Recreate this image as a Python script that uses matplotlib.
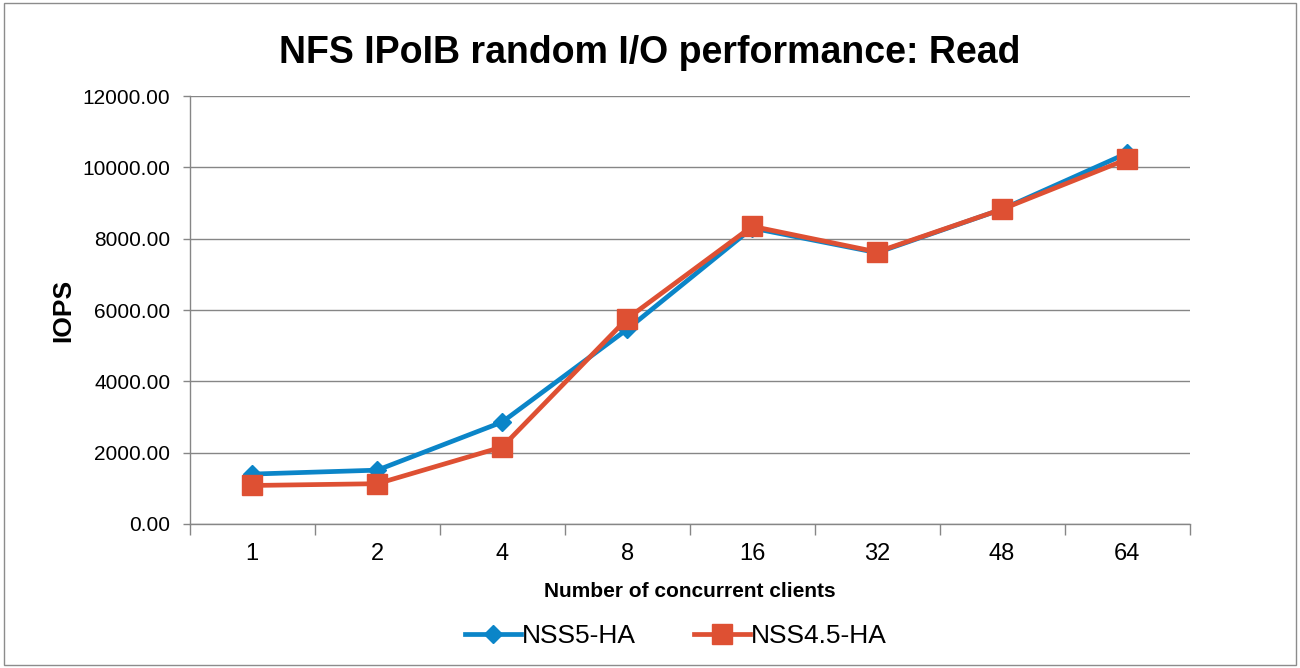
import matplotlib.pyplot as plt
from matplotlib.patches import Rectangle

plt.rcParams['font.family'] = ['Liberation Sans', 'DejaVu Sans']

clients = ['1', '2', '4', '8', '16', '32', '48', '64']
nss5_ha = [1400, 1510, 2860, 5460, 8300, 7610, 8830, 10400]
nss45_ha = [1080, 1130, 2160, 5760, 8350, 7630, 8830, 10230]
yticks = [0, 2000, 4000, 6000, 8000, 10000, 12000]

fig = plt.figure(figsize=(13, 6.68), dpi=100)
fig.patches.append(Rectangle((0.003, 0.004), 0.994, 0.992, transform=fig.transFigure,
                             fill=False, edgecolor='#8c8c8c', linewidth=1))
ax = fig.add_axes([0.146, 0.2156, 0.769, 0.6404])

x = list(range(len(clients)))
ax.plot(x, nss5_ha, color='#0B85C8', linewidth=3.4, marker='D', markersize=9.5,
        label='NSS5-HA', zorder=3)
ax.plot(x, nss45_ha, color='#DE5033', linewidth=3.4, marker='s', markersize=14,
        label='NSS4.5-HA', zorder=4)

ax.set_xlim(-0.5, len(clients) - 0.5)
ax.set_ylim(0, 12000)
ax.set_yticks(yticks)
ax.set_yticklabels(['%.2f' % v for v in yticks], fontsize=15)
ax.set_xticks(x)
ax.set_xticklabels(clients, fontsize=17)
ax.set_xticks([i - 0.5 for i in range(len(clients) + 1)], minor=True)
ax.tick_params(axis='x', which='major', length=0, pad=14)
ax.tick_params(axis='x', which='minor', length=8, color='#868686', width=1)
ax.tick_params(axis='y', length=5, color='#868686', width=1, pad=9)
ax.grid(axis='y', color='#868686', linewidth=1)
ax.set_axisbelow(True)
for side in ['top', 'right']:
    ax.spines[side].set_visible(False)
for side in ['left', 'bottom']:
    ax.spines[side].set_color('#868686')
    ax.spines[side].set_linewidth(1)

fig.text(0.5, 0.92, 'NFS IPoIB random I/O performance: Read', fontsize=27,
         fontweight='bold', ha='center', va='center')
ax.set_xlabel('Number of concurrent clients', fontsize=15, fontweight='bold', labelpad=12)
ax.set_ylabel('IOPS', fontsize=19, fontweight='bold', labelpad=5)

fig.legend(loc='center', bbox_to_anchor=(0.52, 0.048), ncol=2, frameon=False,
           fontsize=19, handlelength=2.1, columnspacing=2.2, handletextpad=0.05)

fig.savefig('out.png', dpi=100)
